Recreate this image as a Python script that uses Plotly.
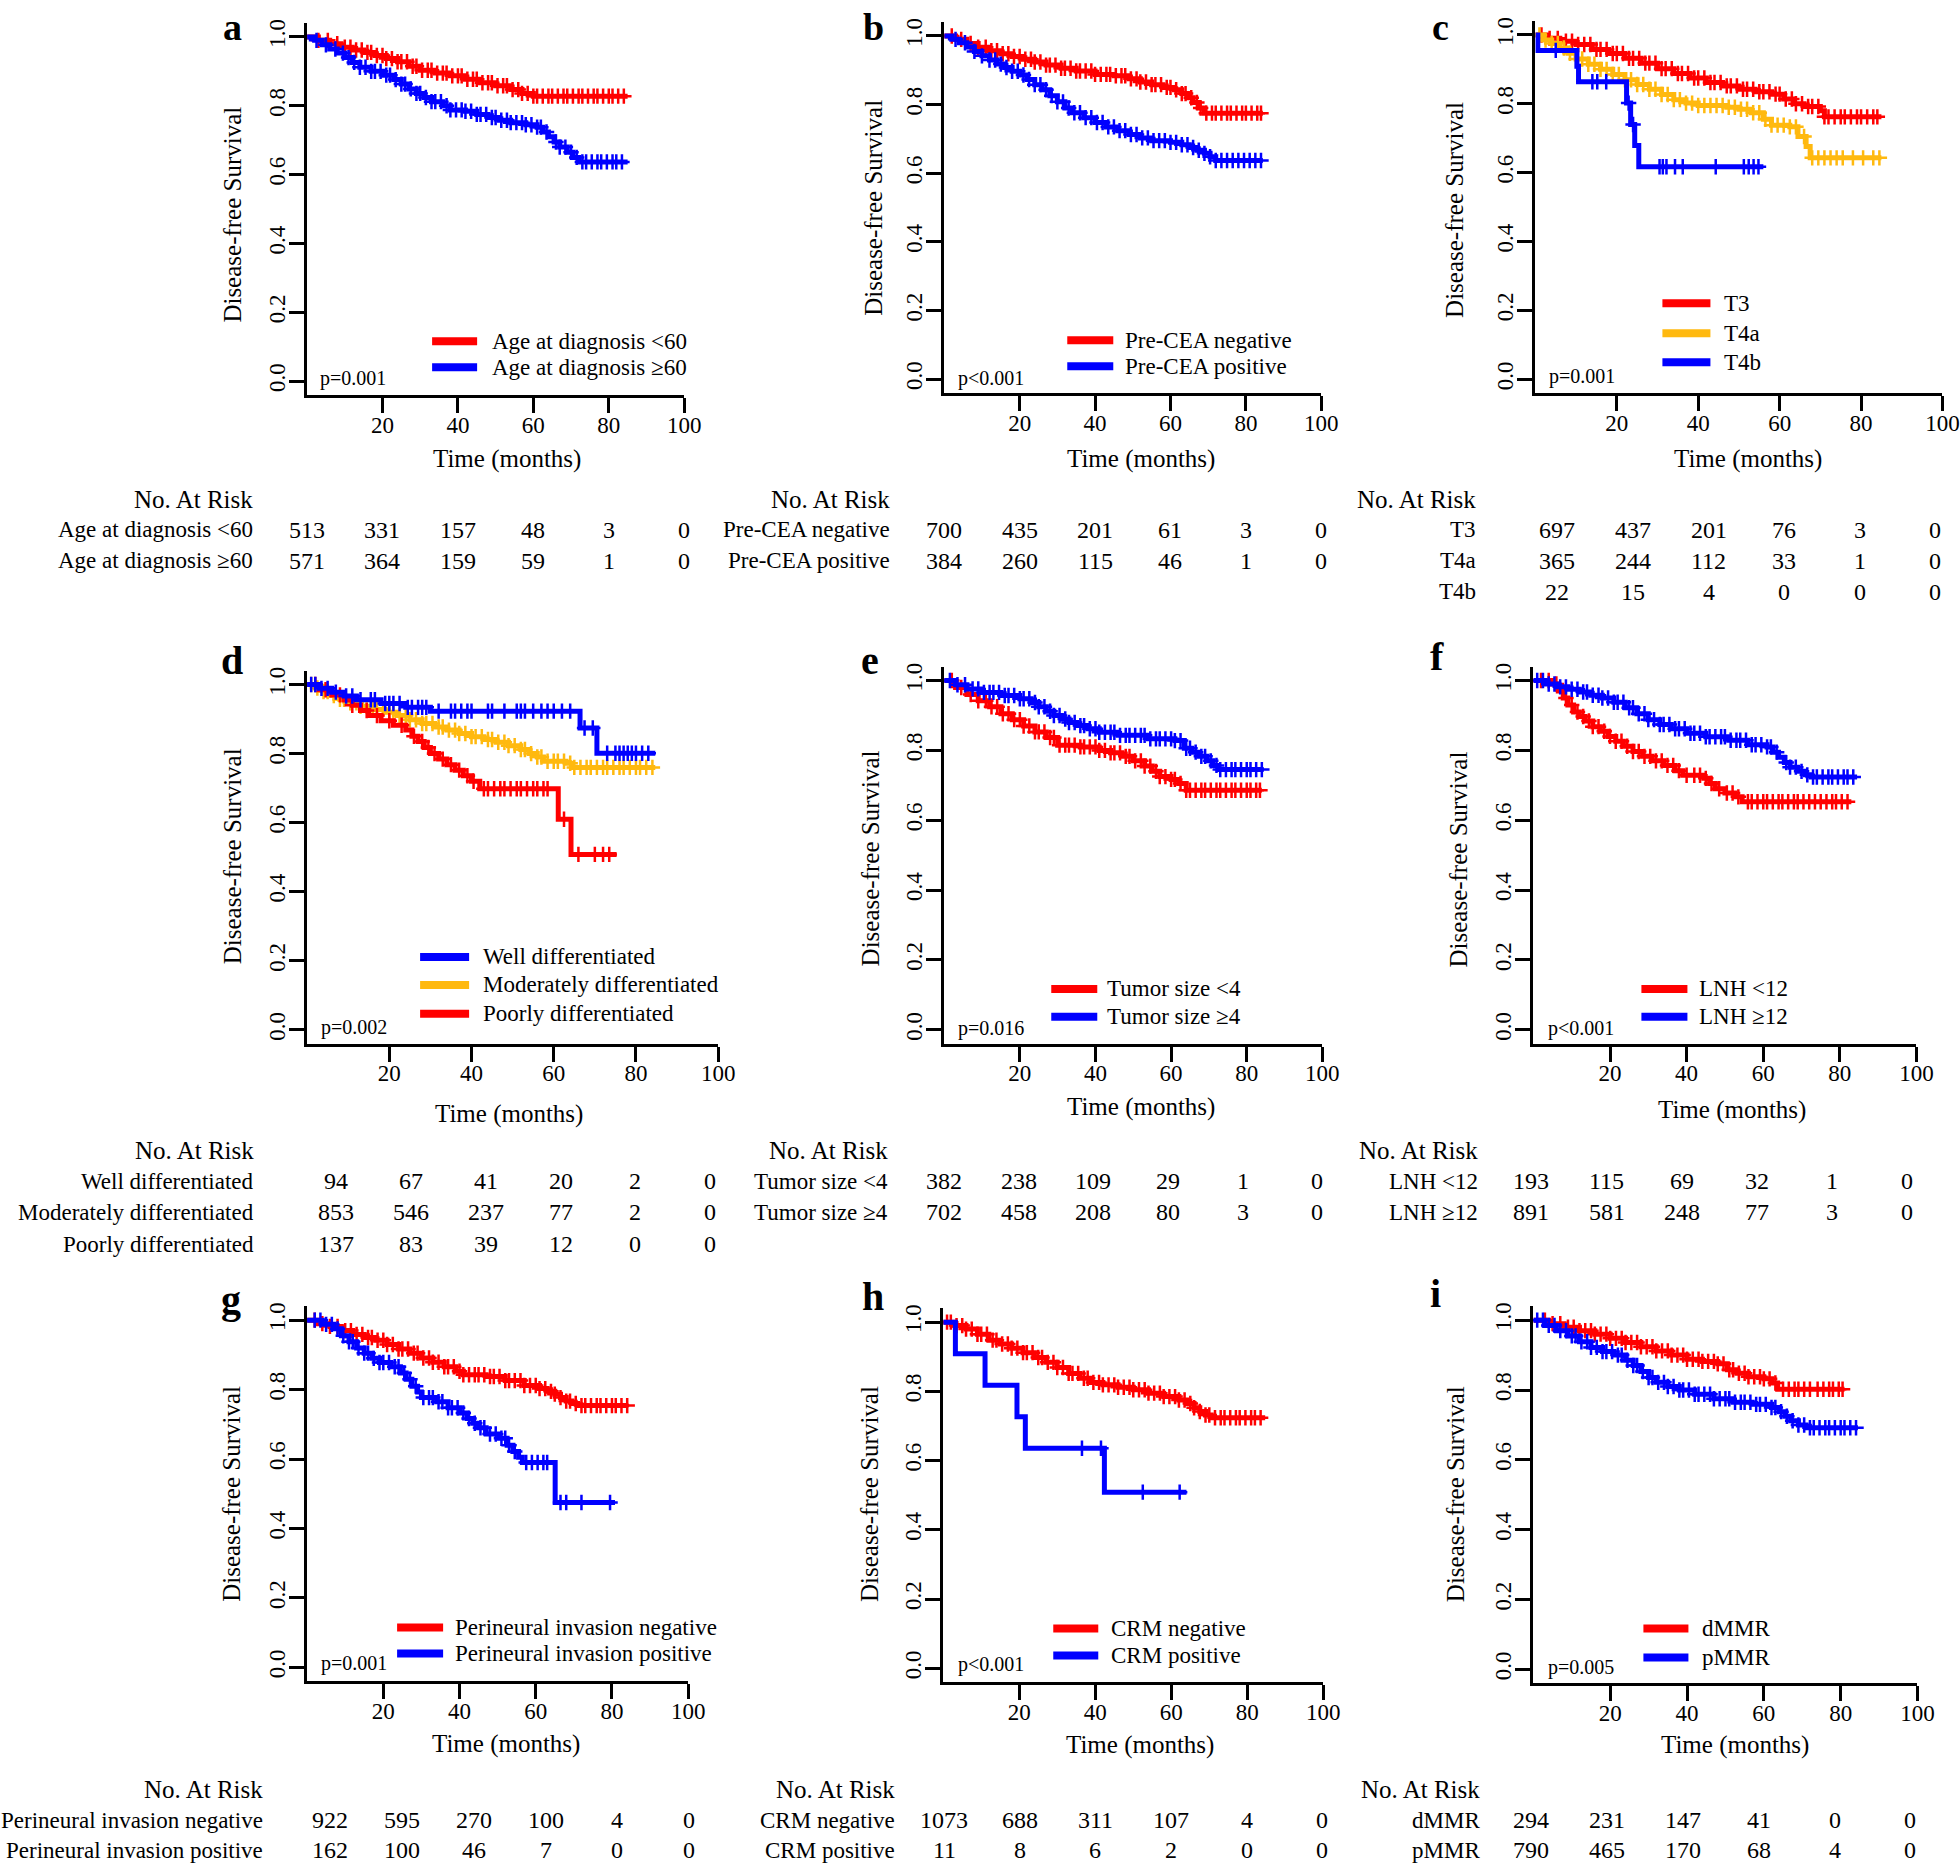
import bisect
import plotly.graph_objects as go

W, H = 1960, 1863
KX = 1.009  # small horizontal correction measured from the rendered page
FONT = "Liberation Serif"
RED, BLUE, ORANGE = "#FF0000", "#0000FF", "#FFB90F"

# ---------------- data ----------------
risk_times = [0, 20, 40, 60, 80, 100]
x_ticks = [20, 40, 60, 80, 100]
y_ticks = [0.0, 0.2, 0.4, 0.6, 0.8, 1.0]
y_ticktext = ["0.0", "0.2", "0.4", "0.6", "0.8", "1.0"]

# a: age
a_names = ["Age at diagnosis <60", "Age at diagnosis ≥60"]
a_p = "p=0.001"
a_lt60_t = [0, 3, 6, 9, 12, 15, 18, 21, 24, 27, 30, 34, 38, 42, 46, 50, 54, 57, 60]
a_lt60_s = [1.0, 0.99, 0.98, 0.97, 0.962, 0.955, 0.946, 0.937, 0.928, 0.915, 0.903, 0.895, 0.887, 0.877, 0.867, 0.858, 0.847, 0.836, 0.828]
a_lt60_c = [3, 5.5, 8, 10, 11.5, 13, 14.5, 16, 17, 18.5, 20, 21, 22.5, 24, 25, 26.5, 28, 29, 30.5, 32, 33, 34.5, 36, 37, 38.5, 40, 41, 42.5, 44, 45, 46.5, 48, 49, 50.5, 52, 53, 54.5, 56, 57, 58.5, 60, 61, 62.5, 64, 65, 66.5, 68, 69, 70.5, 72, 73, 74.5, 76, 77, 78.5, 80, 81, 82.5, 84]
a_lt60_end = 85
a_ge60_t = [0, 2, 4, 6, 8, 10, 12, 14, 17, 20, 23, 25, 27, 29, 31, 33, 36, 38, 42, 45, 48, 51, 54, 58, 61, 62.5, 64, 65.5, 67, 69, 70.5, 72]
a_ge60_s = [1.0, 0.99, 0.977, 0.965, 0.953, 0.94, 0.926, 0.912, 0.9, 0.889, 0.876, 0.863, 0.849, 0.836, 0.824, 0.812, 0.8, 0.788, 0.784, 0.775, 0.766, 0.758, 0.751, 0.745, 0.738, 0.724, 0.71, 0.695, 0.68, 0.665, 0.65, 0.637]
a_ge60_c = [2.5, 5, 7.5, 9.5, 11, 12.5, 14, 15.5, 17, 18, 19.5, 21, 22, 23.5, 25, 26, 27.5, 29, 30, 31.5, 33, 34, 35.5, 37, 38, 39.5, 41, 42, 43.5, 45, 46, 47.5, 49, 50, 51.5, 53, 54, 55.5, 57, 58, 59.5, 61, 62, 63.5, 66, 67, 68.5, 70, 71.5, 73, 74, 75.5, 77, 78, 79.5, 81, 82, 83.5]
a_ge60_end = 85
a_risk = [[513, 331, 157, 48, 3, 0], [571, 364, 159, 59, 1, 0]]

# b: pre-CEA
b_names = ["Pre-CEA negative", "Pre-CEA positive"]
b_p = "p<0.001"
b_neg_t = [0, 3, 6, 9, 12, 15, 18, 21, 24, 27, 31, 35, 40, 45, 49, 52, 55, 58, 61, 63, 64.5, 66, 67.5, 69]
b_neg_s = [1.0, 0.99, 0.978, 0.967, 0.957, 0.948, 0.94, 0.932, 0.924, 0.915, 0.906, 0.898, 0.888, 0.884, 0.875, 0.866, 0.858, 0.85, 0.843, 0.832, 0.82, 0.806, 0.79, 0.775]
b_neg_c = [2, 4.5, 7, 9, 11, 12.5, 14, 15.5, 17, 18.5, 20, 21.5, 23, 24, 25.5, 27, 28, 29.5, 31, 32, 33.5, 35, 36, 37.5, 39, 40, 41.5, 43, 44, 45.5, 47, 48, 49.5, 51, 52, 53.5, 55, 56, 57.5, 59, 60, 61.5, 63, 64, 65.5, 67, 68, 69.5, 71, 72, 73.5, 75, 76, 77.5, 79, 80, 81.5, 83, 84]
b_neg_end = 84.5
b_pos_t = [0, 2, 4, 6, 8, 10, 12, 14, 16, 18, 20, 22, 24, 26, 28, 30, 32, 34, 37, 40, 43, 46, 49, 52, 55, 60, 63, 65, 67, 69, 70.5, 72]
b_pos_s = [1.0, 0.99, 0.98, 0.968, 0.955, 0.942, 0.93, 0.918, 0.908, 0.897, 0.886, 0.873, 0.858, 0.843, 0.826, 0.808, 0.79, 0.776, 0.762, 0.748, 0.735, 0.724, 0.713, 0.703, 0.695, 0.69, 0.683, 0.675, 0.667, 0.658, 0.648, 0.637]
b_pos_c = [3, 5.5, 8, 10, 12, 13.5, 15, 16.5, 18, 19.5, 21, 22.5, 24, 25.5, 27, 28.5, 30, 31.5, 33, 34.5, 36, 37.5, 39, 40.5, 42, 43.5, 45, 46.5, 48, 49.5, 51, 52.5, 54, 55.5, 57, 58.5, 60, 61.5, 63, 64.5, 66, 67.5, 69, 70.5, 72, 73.5, 75, 76.5, 78, 79.5, 81, 82.5, 84]
b_pos_end = 84.5
b_risk = [[700, 435, 201, 61, 3, 0], [384, 260, 115, 46, 1, 0]]

# c: T stage
c_names = ["T3", "T4a", "T4b"]
c_p = "p=0.001"
c_t3_t = [0, 3, 6, 10, 14, 18, 22, 26, 30, 34, 38, 42, 46, 50, 54, 58, 61, 63.5, 66, 70, 71]
c_t3_s = [1.0, 0.99, 0.982, 0.972, 0.958, 0.946, 0.932, 0.918, 0.902, 0.888, 0.875, 0.862, 0.852, 0.842, 0.835, 0.828, 0.814, 0.8, 0.792, 0.78, 0.762]
c_t3_c = [1.5, 3.5, 5.5, 7.5, 9, 10.5, 12, 13.5, 15, 16, 17.5, 19, 20, 21.5, 23, 24, 25.5, 27, 28, 29.5, 31, 32, 33.5, 35, 36, 37.5, 39, 40, 41.5, 43, 44, 45.5, 47, 48, 49.5, 51, 52, 53.5, 55, 56, 57.5, 59, 60, 61.5, 63, 64, 65.5, 67, 68, 69.5, 71, 72, 73.5, 75, 76, 77.5, 79, 80, 81.5, 83, 84]
c_t3_end = 85
c_t4a_t = [0, 2, 4, 6, 8, 10, 13, 16, 19, 22, 25, 28, 31, 34, 37, 40, 47, 50, 53, 56, 58, 62.5, 64.5, 66.5, 67.5]
c_t4a_s = [1.0, 0.985, 0.975, 0.962, 0.947, 0.93, 0.915, 0.9, 0.885, 0.87, 0.856, 0.842, 0.827, 0.812, 0.802, 0.795, 0.79, 0.784, 0.774, 0.755, 0.738, 0.733, 0.705, 0.676, 0.643]
c_t4a_c = [1, 2.5, 4, 5.5, 7, 8.5, 10, 11.5, 13, 14.5, 16, 17.5, 19, 20.5, 22, 23.5, 25, 26.5, 28, 29.5, 31, 32.5, 34, 35.5, 37, 38.5, 40, 41.5, 43, 44.5, 46, 47.5, 49, 50.5, 52, 53.5, 55, 56.5, 58, 59.5, 61, 62.5, 64, 66, 68, 69.5, 71, 72.5, 74, 75.5, 78, 80.5, 83, 84.5]
c_t4a_end = 85
c_t4b_t = [0, 0.6, 10.2, 10.6, 22.4, 23.4, 24.4, 25.4]
c_t4b_s = [1.0, 0.955, 0.909, 0.864, 0.802, 0.74, 0.679, 0.617]
c_t4b_c = [5, 14, 15.2, 17.4, 22.9, 24, 30.5, 31.3, 32.2, 34.3, 36.2, 44.3, 51.2, 52.4, 53.6, 54.8]
c_t4b_end = 56
c_risk = [[697, 437, 201, 76, 3, 0], [365, 244, 112, 33, 1, 0], [22, 15, 4, 0, 0, 0]]

# d: differentiation
d_names = ["Well differentiated", "Moderately differentiated", "Poorly differentiated"]
d_p = "p=0.002"
d_well_t = [0, 3, 6, 9, 12, 18, 24, 30, 66.4, 70.5]
d_well_s = [1.0, 0.989, 0.978, 0.967, 0.956, 0.945, 0.934, 0.923, 0.874, 0.801]
d_well_c = [1, 2, 3.5, 5, 7, 9.5, 11, 13, 15.5, 16.5, 19, 20, 21, 22.5, 24.5, 25.5, 27, 28, 29, 32, 35, 36, 37.5, 39, 40, 44, 45, 48, 51, 52, 53, 55, 57, 58.5, 60, 62, 64, 67.5, 69.5, 73, 75, 76, 77, 78, 79, 80, 81.5, 83]
d_well_end = 84.7
d_mod_t = [0, 2, 4, 6, 8, 10, 13, 16, 19, 22, 25, 28, 31, 34, 37, 40, 43, 46, 49, 52, 54, 56, 57.5, 63, 64.5]
d_mod_s = [1.0, 0.99, 0.98, 0.968, 0.957, 0.947, 0.937, 0.928, 0.92, 0.91, 0.898, 0.887, 0.877, 0.868, 0.858, 0.849, 0.841, 0.833, 0.823, 0.812, 0.8, 0.79, 0.778, 0.772, 0.76]
d_mod_c = [1, 2.5, 4, 5, 6.5, 8, 9, 10.5, 12, 13, 14.5, 16, 17, 18.5, 20, 21, 22.5, 24, 25, 26.5, 28, 29, 30.5, 32, 33, 34.5, 36, 37, 38.5, 40, 41, 42.5, 44, 45, 46.5, 48, 49, 50.5, 52, 53, 54.5, 56, 57, 58.5, 60, 61, 62.5, 64, 65, 66.5, 68, 69, 70.5, 72, 73, 74.5, 76, 77, 78.5, 80, 81, 82.5, 84]
d_mod_end = 84.7
d_poor_t = [0, 3, 6, 9, 11, 13, 15, 18, 21, 24, 25.5, 27, 28.5, 30, 32, 34, 36, 38, 40, 42, 61.1, 64.2]
d_poor_s = [1.0, 0.985, 0.97, 0.955, 0.94, 0.925, 0.91, 0.895, 0.882, 0.868, 0.85, 0.835, 0.818, 0.8, 0.784, 0.768, 0.752, 0.736, 0.72, 0.698, 0.61, 0.508]
d_poor_c = [2, 4.5, 8, 11, 14.5, 17, 20, 23, 26, 28, 29.5, 31, 33, 35, 37, 39, 40.5, 43, 44, 45.5, 47, 48, 49.5, 51, 52, 53.5, 55, 56, 57.5, 58.5, 62.5, 66, 70, 72, 73.5]
d_poor_end = 75.3
d_risk = [[94, 67, 41, 20, 2, 0], [853, 546, 237, 77, 2, 0], [137, 83, 39, 12, 0, 0]]

# e: tumor size
e_names = ["Tumor size <4", "Tumor size ≥4"]
e_p = "p=0.016"
e_lt4_t = [0, 3, 6, 9, 12, 15, 18, 21, 24, 27, 30, 36, 41, 44, 47, 50, 53, 55, 57, 60, 62, 64]
e_lt4_s = [1.0, 0.98, 0.96, 0.942, 0.925, 0.905, 0.888, 0.87, 0.853, 0.837, 0.815, 0.81, 0.8, 0.793, 0.783, 0.77, 0.755, 0.74, 0.725, 0.717, 0.705, 0.686]
e_lt4_c = [2, 4.5, 7, 9, 11, 12.5, 14, 15.5, 17, 18.5, 20, 21, 22.5, 24, 25, 26.5, 28, 29, 30.5, 32, 33, 34.5, 36, 37, 38.5, 40, 41, 42.5, 44, 45, 46.5, 48, 49, 50.5, 52, 53, 54.5, 56, 57, 58.5, 60, 61, 62.5, 64, 65, 66.5, 68, 69, 70.5, 72, 73, 74.5, 76, 77, 78.5, 80, 81, 82.5, 83.5]
e_lt4_end = 84
e_ge4_t = [0, 3, 6, 10, 15, 20, 23, 25, 27, 29, 31, 33, 35, 38, 41, 46, 54, 61, 63.5, 65.5, 67.5, 69.5, 71, 72.5]
e_ge4_s = [1.0, 0.988, 0.976, 0.966, 0.957, 0.948, 0.937, 0.925, 0.912, 0.9, 0.89, 0.88, 0.871, 0.862, 0.852, 0.843, 0.833, 0.828, 0.806, 0.795, 0.783, 0.77, 0.757, 0.745]
e_ge4_c = [1.5, 3.5, 5.5, 7.5, 9, 10.5, 12, 13, 14.5, 16, 17, 18.5, 20, 21, 22.5, 24, 25, 26.5, 28, 29, 30.5, 32, 33, 34.5, 36, 37, 38.5, 40, 41, 42.5, 44, 45, 46.5, 48, 49, 50.5, 52, 53, 54.5, 56, 57, 58.5, 60, 61, 62.5, 64, 65, 66.5, 68, 69, 70.5, 72, 73, 74.5, 76, 77, 78.5, 80, 81, 82.5, 84]
e_ge4_end = 84.5
e_risk = [[382, 238, 109, 29, 1, 0], [702, 458, 208, 80, 3, 0]]

# f: lymph nodes harvested
f_names = ["LNH <12", "LNH ≥12"]
f_p = "p<0.001"
f_lt12_t = [0, 5, 6.5, 7.8, 9, 10.5, 12, 13.5, 15.5, 17.5, 19.5, 21.5, 23.5, 26, 28.5, 31, 34, 37, 39, 44.5, 46, 47.5, 50, 52.5, 54.5]
f_lt12_s = [1.0, 0.99, 0.97, 0.95, 0.93, 0.91, 0.897, 0.884, 0.868, 0.855, 0.84, 0.826, 0.812, 0.797, 0.783, 0.77, 0.757, 0.742, 0.729, 0.72, 0.705, 0.69, 0.678, 0.667, 0.653]
f_lt12_c = [2, 4, 6, 8.5, 10, 11.5, 13, 14.5, 15.5, 17, 18.5, 20, 21.5, 23, 24.5, 26, 27.5, 29, 30.5, 32, 33.5, 35, 36.5, 38, 40, 42, 43.5, 45, 46.5, 48.5, 50.5, 52, 53.5, 56, 57, 58.5, 60, 61, 62.5, 64, 65, 66.5, 68, 69, 70.5, 72, 73.5, 75, 76.5, 78, 79, 80.5, 82]
f_lt12_end = 83
f_ge12_t = [0, 3, 6, 9, 12, 15, 18, 21, 24, 27, 30, 33, 36, 40, 45, 51, 56, 61, 62.5, 64, 65.5, 67, 69, 71, 72.5]
f_ge12_s = [1.0, 0.99, 0.982, 0.975, 0.967, 0.958, 0.95, 0.938, 0.922, 0.905, 0.888, 0.874, 0.862, 0.849, 0.839, 0.829, 0.816, 0.81, 0.795, 0.78, 0.765, 0.752, 0.74, 0.73, 0.724]
f_ge12_c = [1, 2.5, 4, 5.5, 7, 8.5, 10, 11.5, 13, 14, 15.5, 17, 18, 19.5, 21, 22, 23.5, 25, 26, 27.5, 29, 30, 31.5, 33, 34, 35.5, 37, 38, 39.5, 41, 42, 43.5, 45, 46, 47.5, 49, 50, 51.5, 53, 54, 55.5, 57, 58, 59.5, 61, 62, 63.5, 66, 67, 68.5, 70, 71.5, 73, 74, 75.5, 77, 78, 79.5, 81, 82, 83.5]
f_ge12_end = 84.5
f_risk = [[193, 115, 69, 32, 1, 0], [891, 581, 248, 77, 3, 0]]

# g: perineural invasion
g_names = ["Perineural invasion negative", "Perineural invasion positive"]
g_p = "p=0.001"
g_neg_t = [0, 3, 6, 9, 12, 15, 18, 21, 24, 27, 30, 33, 36, 39, 41, 47, 52, 57, 61, 63, 65, 66.5, 68, 69.5, 71]
g_neg_s = [1.0, 0.99, 0.982, 0.97, 0.959, 0.95, 0.942, 0.93, 0.917, 0.905, 0.891, 0.879, 0.866, 0.853, 0.843, 0.838, 0.826, 0.812, 0.803, 0.795, 0.787, 0.777, 0.767, 0.76, 0.754]
g_neg_c = [2, 4, 6, 8, 10, 11.5, 13, 14.5, 16, 17, 18.5, 20, 21, 22.5, 24, 25, 26.5, 28, 29, 30.5, 32, 33, 34.5, 36, 37, 38.5, 40, 41, 42.5, 44, 45, 46.5, 48, 49, 50.5, 52, 53, 54.5, 56, 57, 58.5, 60, 61, 62.5, 64, 65, 66.5, 68, 69, 70.5, 72, 73, 74.5, 76, 77, 78.5, 80, 81, 82.5, 84]
g_neg_end = 84.3
g_pos_t = [0, 4, 7, 9, 11, 13, 15, 17, 19, 22, 24.5, 26, 27.5, 29, 30, 34, 37, 40, 42, 43.5, 45, 47, 50.5, 52.5, 54, 55.5, 56.5, 65.1]
g_pos_s = [1.0, 0.988, 0.975, 0.955, 0.938, 0.92, 0.905, 0.89, 0.878, 0.866, 0.848, 0.83, 0.81, 0.793, 0.777, 0.765, 0.748, 0.733, 0.717, 0.703, 0.69, 0.672, 0.66, 0.64, 0.622, 0.605, 0.59, 0.475]
g_pos_c = [2, 3.5, 5, 6.5, 8, 9.5, 11, 12, 13.5, 15, 16, 17.5, 19, 20, 21.5, 23, 24, 25.5, 27, 28.5, 30.5, 32, 33, 34.5, 35.5, 37, 38, 39.5, 41, 42.5, 44, 45.5, 46.5, 48, 49.5, 51, 52, 53, 54.5, 57.5, 59, 60.5, 62, 63, 66.5, 68, 72, 79.5]
g_pos_end = 80.8
g_risk = [[922, 595, 270, 100, 4, 0], [162, 100, 46, 7, 0, 0]]

# h: CRM
h_names = ["CRM negative", "CRM positive"]
h_p = "p<0.001"
h_neg_t = [0, 3, 6, 9, 12, 15, 18, 21, 24, 27, 30, 33, 36, 39, 42, 46, 50, 54, 58, 62, 64, 66, 67.5, 69, 70.5]
h_neg_s = [1.0, 0.99, 0.98, 0.965, 0.948, 0.937, 0.925, 0.912, 0.898, 0.884, 0.869, 0.852, 0.838, 0.826, 0.819, 0.812, 0.805, 0.795, 0.785, 0.775, 0.765, 0.753, 0.742, 0.732, 0.724]
h_neg_c = [1, 2, 3.5, 5, 6, 7.5, 9, 10, 11.5, 13, 14, 15.5, 17, 18, 19.5, 21, 22, 23.5, 25, 26, 27.5, 29, 30, 31.5, 33, 34, 35.5, 37, 38, 39.5, 41, 42, 43.5, 45, 46, 47.5, 49, 50, 51.5, 53, 54, 55.5, 57, 58, 59.5, 61, 62, 63.5, 65, 66, 67.5, 69, 70, 71.5, 73, 74, 75.5, 77, 78, 79.5, 81, 82, 83.5]
h_neg_end = 84.7
h_pos_t = [0, 3.2, 11, 19.4, 21.6, 42.4]
h_pos_s = [1.0, 0.909, 0.818, 0.727, 0.636, 0.509]
h_pos_c = [36.5, 41.5, 52.5, 62.2]
h_pos_end = 64
h_risk = [[1073, 688, 311, 107, 4, 0], [11, 8, 6, 2, 0, 0]]

# i: MMR
i_names = ["dMMR", "pMMR"]
i_p = "p=0.005"
i_d_t = [0, 4, 8, 12, 16, 20, 24, 28, 32, 36, 40, 44, 48, 50.5, 53, 56, 60, 62, 63.6]
i_d_s = [1.0, 0.99, 0.98, 0.97, 0.96, 0.948, 0.936, 0.924, 0.912, 0.9, 0.888, 0.882, 0.875, 0.858, 0.848, 0.838, 0.832, 0.82, 0.802]
i_d_c = [3, 5, 7, 9, 10.5, 12, 13.5, 15, 16, 17.5, 19, 20, 21.5, 23, 24, 25.5, 27, 28, 29.5, 31, 32, 33.5, 35, 36, 37.5, 39, 40, 41.5, 43, 44, 45.5, 47, 48, 49.5, 51, 52, 53.5, 55, 56, 57.5, 59, 60, 61.5, 63, 65, 66.5, 68, 69, 70.5, 72, 74, 75.5, 77, 78, 79.5, 80.5]
i_d_end = 81
i_p_t = [0, 3, 6, 9, 12, 15, 18, 21, 24, 26, 28, 30, 32, 35, 38, 42, 47, 52, 57, 62, 64, 65.5, 67, 69, 71]
i_p_s = [1.0, 0.985, 0.97, 0.955, 0.938, 0.922, 0.91, 0.9, 0.885, 0.87, 0.853, 0.836, 0.822, 0.81, 0.8, 0.788, 0.775, 0.765, 0.759, 0.75, 0.738, 0.725, 0.712, 0.7, 0.692]
i_p_c = [1, 2.5, 4, 5.5, 7, 8.5, 10, 11, 12.5, 14, 15, 16.5, 18, 19, 20.5, 22, 23, 24.5, 26, 27, 28.5, 30, 31, 32.5, 34, 35, 36.5, 38, 39, 40.5, 42, 43, 44.5, 46, 47, 48.5, 50, 51, 52.5, 54, 55, 56.5, 58, 59, 60.5, 62, 63, 64.5, 66, 67.5, 69, 70.5, 72, 73, 74.5, 76, 77, 78.5, 80, 81, 82.5, 84]
i_p_end = 84.5
i_risk = [[294, 231, 147, 41, 0, 0], [790, 465, 170, 68, 4, 0]]

# ---------------- assembly ----------------
panels = [
    ("a", a_names, a_p, a_risk, [(RED, a_lt60_t, a_lt60_s, a_lt60_c, a_lt60_end),
                                 (BLUE, a_ge60_t, a_ge60_s, a_ge60_c, a_ge60_end)]),
    ("b", b_names, b_p, b_risk, [(RED, b_neg_t, b_neg_s, b_neg_c, b_neg_end),
                                 (BLUE, b_pos_t, b_pos_s, b_pos_c, b_pos_end)]),
    ("c", c_names, c_p, c_risk, [(RED, c_t3_t, c_t3_s, c_t3_c, c_t3_end),
                                 (ORANGE, c_t4a_t, c_t4a_s, c_t4a_c, c_t4a_end),
                                 (BLUE, c_t4b_t, c_t4b_s, c_t4b_c, c_t4b_end)]),
    ("d", d_names, d_p, d_risk, [(ORANGE, d_mod_t, d_mod_s, d_mod_c, d_mod_end),
                                 (RED, d_poor_t, d_poor_s, d_poor_c, d_poor_end),
                                 (BLUE, d_well_t, d_well_s, d_well_c, d_well_end)]),
    ("e", e_names, e_p, e_risk, [(RED, e_lt4_t, e_lt4_s, e_lt4_c, e_lt4_end),
                                 (BLUE, e_ge4_t, e_ge4_s, e_ge4_c, e_ge4_end)]),
    ("f", f_names, f_p, f_risk, [(RED, f_lt12_t, f_lt12_s, f_lt12_c, f_lt12_end),
                                 (BLUE, f_ge12_t, f_ge12_s, f_ge12_c, f_ge12_end)]),
    ("g", g_names, g_p, g_risk, [(RED, g_neg_t, g_neg_s, g_neg_c, g_neg_end),
                                 (BLUE, g_pos_t, g_pos_s, g_pos_c, g_pos_end)]),
    ("h", h_names, h_p, h_risk, [(RED, h_neg_t, h_neg_s, h_neg_c, h_neg_end),
                                 (BLUE, h_pos_t, h_pos_s, h_pos_c, h_pos_end)]),
    ("i", i_names, i_p, i_risk, [(RED, i_d_t, i_d_s, i_d_c, i_d_end),
                                 (BLUE, i_p_t, i_p_s, i_p_c, i_p_end)]),
]
legend_colors = {
    "a": [RED, BLUE], "b": [RED, BLUE], "c": [RED, ORANGE, BLUE],
    "d": [BLUE, ORANGE, RED], "e": [RED, BLUE], "f": [RED, BLUE],
    "g": [RED, BLUE], "h": [RED, BLUE], "i": [RED, BLUE],
}

# layout geometry in pixels
GEO = {
    "a": dict(x0=307, x100=684, y0=378, y1=33, letter=(232, 18), ylab=(232, 211), xlab=(507, 456),
              p=(318, 375), leg=(432, 477, 490, [338, 364]), tab=(255, 497, [527, 558], 307, 75.4)),
    "b": dict(x0=944, x100=1321, y0=376, y1=32, letter=(873, 17), ylab=(873, 204), xlab=(1141, 456),
              p=(956, 375), leg=(1067, 1113, 1123, [337, 363]), tab=(892, 497, [527, 558], 944, 75.4)),
    "c": dict(x0=1535, x100=1942, y0=376, y1=31, letter=(1440, 17), ylab=(1454, 206), xlab=(1748, 456),
              p=(1547, 373), leg=(1662, 1710, 1722, [300, 330, 359]), tab=(1478, 497, [527, 558, 589], 1557, 75.6)),
    "d": dict(x0=307, x100=718, y0=1028, y1=682, letter=(232, 658), ylab=(232, 854), xlab=(509, 1112),
              p=(319, 1026), leg=(420, 469, 481, [955, 983, 1012]), tab=(256, 1149, [1180, 1211, 1243], 336, 74.8)),
    "e": dict(x0=944, x100=1322, y0=1028, y1=678, letter=(870, 658), ylab=(870, 856), xlab=(1141, 1105),
              p=(956, 1027), leg=(1051, 1097, 1105, [987, 1015]), tab=(890, 1149, [1180, 1211], 944, 74.6)),
    "f": dict(x0=1533, x100=1916, y0=1028, y1=678, letter=(1437, 654), ylab=(1458, 857), xlab=(1732, 1108),
              p=(1546, 1027), leg=(1641, 1687, 1697, [987, 1015]), tab=(1480, 1149, [1180, 1211], 1531, 75.2)),
    "g": dict(x0=307, x100=688, y0=1667, y1=1319, letter=(231, 1298), ylab=(232, 1493), xlab=(506, 1744),
              p=(319, 1663), leg=(397, 443, 453, [1627, 1653]), tab=(265, 1789, [1820, 1850], 330, 71.8)),
    "h": dict(x0=943, x100=1323, y0=1668, y1=1321, letter=(873, 1295), ylab=(870, 1493), xlab=(1140, 1745),
              p=(956, 1664), leg=(1053, 1098, 1109, [1628, 1655]), tab=(897, 1789, [1820, 1850], 944, 75.6)),
    "i": dict(x0=1533, x100=1917, y0=1669, y1=1319, letter=(1435, 1292), ylab=(1455, 1493), xlab=(1735, 1745),
              p=(1546, 1667), leg=(1643, 1688, 1700, [1628, 1657]), tab=(1482, 1789, [1820, 1850], 1531, 75.8)),
}


def px(x):
    return min(x * KX / W, 1.0)


def py(y):
    return 1 - y / H


def step_value(ts, ss, t):
    return ss[max(bisect.bisect_right(ts, t) - 1, 0)]


fig = go.Figure()
annotations = []
shapes = []


def ann(x, y, text, size, xanchor="center", yanchor="middle", bold=False, angle=0):
    annotations.append(dict(
        x=px(x), y=py(y), xref="paper", yref="paper", text=("<b>%s</b>" % text) if bold else text,
        showarrow=False, xanchor=xanchor, yanchor=yanchor, textangle=angle,
        font=dict(family=FONT, size=size, color="black")))


axis_common = dict(showgrid=False, zeroline=False, showline=True, linecolor="black", linewidth=3,
                   ticks="outside", ticklen=15, tickwidth=2.5, tickcolor="black",
                   tickfont=dict(family=FONT, size=23, color="black"))

for k, (key, names, pval, risk, curves) in enumerate(panels, start=1):
    g = GEO[key]
    xa = "x" if k == 1 else "x%d" % k
    ya = "y" if k == 1 else "y%d" % k
    unit = g["y0"] - g["y1"]
    ybot = g["y0"] + 0.04 * unit
    ytop = g["y1"] - 0.04 * unit
    fig.layout["xaxis" if k == 1 else "xaxis%d" % k] = dict(
        axis_common, domain=[px(g["x0"]), px(g["x100"])], range=[0, 100], anchor=ya,
        tickvals=x_ticks, ticklabelstandoff=-8)
    fig.layout["yaxis" if k == 1 else "yaxis%d" % k] = dict(
        axis_common, domain=[py(ybot), py(ytop)], range=[-0.04, 1.04], anchor=xa,
        tickvals=y_ticks, ticktext=y_ticktext, tickangle=-90, ticklabelstandoff=-5)

    for color, ts, ss, cens, end in curves:
        fig.add_trace(go.Scatter(
            x=ts + [end], y=ss + [ss[-1]], mode="lines", line=dict(color=color, width=5, shape="hv"),
            xaxis=xa, yaxis=ya, hoverinfo="skip"))
        cx = [c for c in cens if c <= end]
        cy = [step_value(ts, ss, c) for c in cx]
        fig.add_trace(go.Scatter(
            x=cx, y=cy, mode="markers", xaxis=xa, yaxis=ya, cliponaxis=False,
            marker=dict(symbol="cross-thin", size=11, line=dict(color=color, width=2.5), color=color),
            hoverinfo="skip"))

    # panel letter (top row anchored to the top edge so it stays inside the page)
    lx, ly = g["letter"]
    if ly < 40:
        ann(lx, 0, key, 38, yanchor="top", bold=True)
    else:
        ann(lx, ly, key, 40, bold=True)
    ann(*g["ylab"], "Disease-free Survival", 25, angle=-90)
    ann(*g["xlab"], "Time (months)", 25)
    ann(g["p"][0], g["p"][1], pval, 20, xanchor="left")

    # legend
    lx0, lx1, ltx, lrows = g["leg"]
    for name, color, lyy in zip(names, legend_colors[key], lrows):
        shapes.append(dict(type="line", xref="paper", yref="paper", x0=px(lx0), x1=px(lx1),
                           y0=py(lyy), y1=py(lyy), line=dict(color=color, width=8)))
        ann(ltx, lyy, name, 23, xanchor="left")

    # risk table
    tright, thead, trows, tx0, tdx = g["tab"]
    ann(tright, thead, "No. At Risk", 25, xanchor="right")
    for name, row, ry in zip(names, risk, trows):
        ann(tright, ry, name, 23, xanchor="right")
        for tm, n in zip(risk_times, row):
            ann(tx0 + tdx * tm / 20, ry, str(n), 24)

fig.update_layout(
    width=W, height=H, margin=dict(l=0, r=0, t=0, b=0),
    paper_bgcolor="white", plot_bgcolor="white", showlegend=False,
    annotations=annotations, shapes=shapes,
)

page_fix = (
    "document.documentElement.style.margin='0px';"
    "document.documentElement.style.overflow='hidden';"
    "document.body.style.margin='0px';"
    "document.body.style.overflow='hidden';"
    "var gd=document.getElementById('{plot_id}');"
    "gd.style.position='fixed';gd.style.left='0px';gd.style.top='0px';"
)
fig.write_html(
    "out.html",
    config={"displayModeBar": False, "responsive": False},
    post_script=page_fix,
)
